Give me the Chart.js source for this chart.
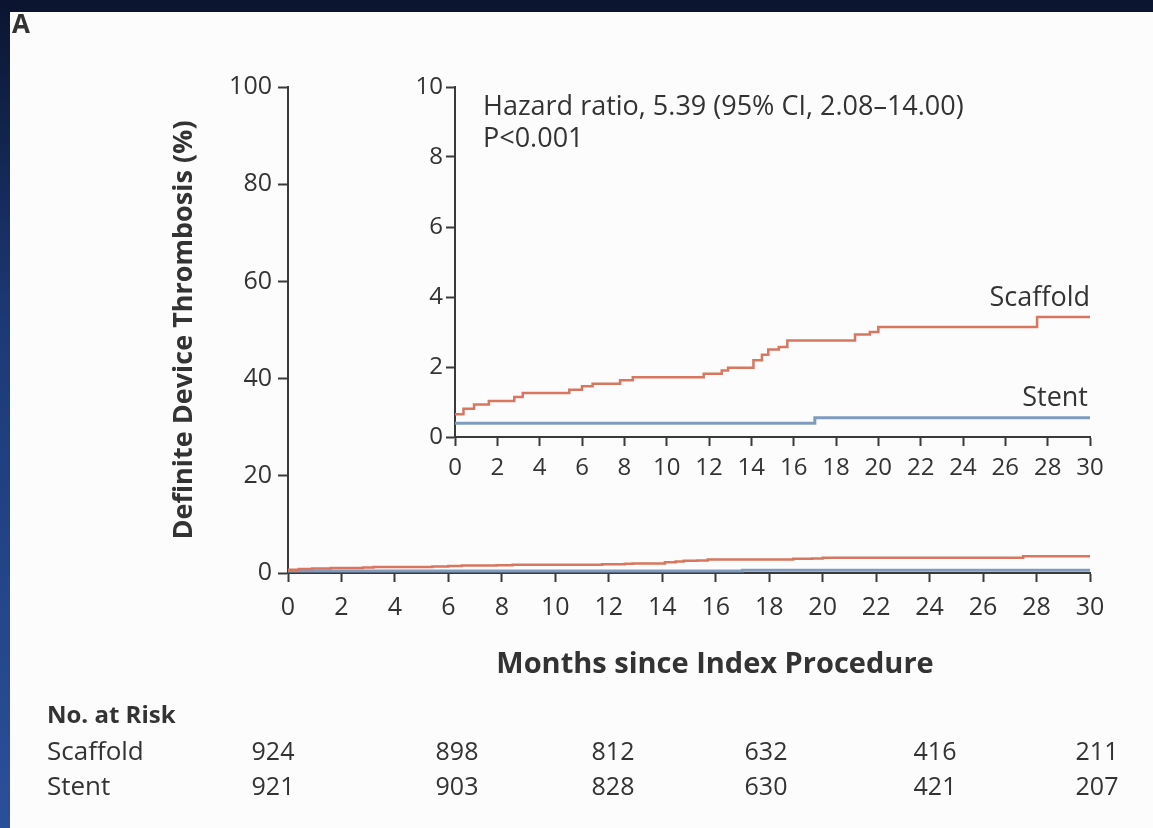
<!DOCTYPE html>
<html>
<head>
<meta charset="utf-8">
<script src="https://cdn.jsdelivr.net/npm/chart.js@4"></script>
<style>
  body { margin: 0; background: #fcfcfc; font-family: "Open Sans", Lato, sans-serif; color: #333; }
  #page { position: relative; width: 1153px; height: 828px; overflow: hidden; background: #fcfcfc; }
  #main { position: absolute; left: 0; top: 0; }
  #inset { position: absolute; left: 380px; top: 50px; }
  .txt { position: absolute; white-space: nowrap; line-height: 1; }
  .topband { position: absolute; left: 0; top: 0; width: 1153px; height: 12px; background: #0b1530; }
  .leftband { position: absolute; left: 0; top: 0; width: 10px; height: 828px; background: linear-gradient(#0b1530, #1d3a78 40%, #2a5099); }
  .risk { font-size: 26px; }
  .num { position: absolute; width: 60px; margin-left: -30px; text-align: center; font-size: 25px; line-height: 1; }
</style>
</head>
<body>
<div id="page">
  <canvas id="main" width="1153" height="828"></canvas>
  <canvas id="inset" width="740" height="440"></canvas>
  <div class="topband"></div>
  <div class="leftband"></div>

  <div class="txt" style="left:12px; top:10px; font-size:26px; font-weight:bold;">A</div>

  <div class="txt" style="left:483px; top:91px; font-size:27px;">Hazard ratio, 5.39 (95% CI, 2.08–14.00)</div>
  <div class="txt" style="left:483px; top:123px; font-size:27px;">P&lt;0.001</div>
  <div class="txt" style="right:63px; top:282px; font-size:27px;">Scaffold</div>
  <div class="txt" style="right:65px; top:382px; font-size:27px;">Stent</div>

  <div class="txt" style="left:715px; top:647px; transform:translateX(-50%); font-size:29px; font-weight:bold;">Months since Index Procedure</div>

  <div class="txt" style="left:47px; top:702px; font-size:24px; font-weight:bold;">No. at Risk</div>
  <div class="txt risk" style="left:47px; top:737px;">Scaffold</div>
  <div class="txt risk" style="left:47px; top:772px;">Stent</div>
  <div id="riskRows"></div>
</div>
<script>
// cumulative incidence, definite device thrombosis (%)
const scaffoldMonths = [0, 0.4, 0.9, 1.6, 2.8, 3.2, 5.4, 6.0, 6.5, 7.8, 8.4, 11.75, 12.6, 12.9, 14.1, 14.5, 14.8, 15.3, 15.7, 18.9, 19.6, 20.0, 27.5, 30];
const scaffoldPct = [0.65, 0.81, 0.93, 1.03, 1.14, 1.26, 1.35, 1.45, 1.52, 1.62, 1.71, 1.81, 1.90, 1.98, 2.19, 2.35, 2.50, 2.57, 2.76, 2.93, 3.00, 3.14, 3.43, 3.43];
const stentMonths = [0, 17.0, 30];
const stentPct = [0.39, 0.55, 0.55];

// number at risk table
const riskMonths = [0, 6, 12, 18, 24, 30];
const riskScaffold = [924, 898, 812, 632, 416, 211];
const riskStent = [921, 903, 828, 630, 421, 207];
const riskX = [273, 457, 613, 766, 935, 1097];

const scaffoldColor = '#d8765f';
const stentColor = '#7f9cc0';
const axisColor = '#3a3a3a';
const textColor = '#333333';
const fontName = 'Open Sans';

const toPts = (xs, ys) => xs.map((x, i) => ({ x: x, y: ys[i] }));

function datasets() {
  return [
    { label: 'Scaffold', data: toPts(scaffoldMonths, scaffoldPct), stepped: true,
      borderColor: scaffoldColor, borderWidth: 2.5, pointRadius: 0, fill: false },
    { label: 'Stent', data: toPts(stentMonths, stentPct), stepped: true,
      borderColor: stentColor, borderWidth: 3, pointRadius: 0, fill: false }
  ];
}

function axisOpts(min, max, step, size, title, titleSize) {
  return {
    type: 'linear', min: min, max: max,
    ticks: { stepSize: step, color: textColor, font: { family: fontName, size: size }, padding: 6, maxRotation: 0, autoSkip: false },
    grid: { display: true, drawOnChartArea: false, drawTicks: true, tickLength: 9, tickWidth: 2, tickColor: axisColor },
    border: { display: true, color: axisColor, width: 2 },
    title: title ? { display: true, text: title, color: textColor, font: { family: fontName, size: titleSize, weight: 'bold' }, padding: { top: 0, bottom: 0 } } : { display: false }
  };
}

// main chart 0-100 %
const mainX = axisOpts(0, 30, 2, 25, null);
mainX.ticks.padding = 11;
mainX.afterFit = s => { s.height = 105; };
const mainY = axisOpts(0, 100, 20, 25, 'Definite Device Thrombosis (%)', 27);
mainY.grid.tickLength = 10;
mainY.afterFit = s => { s.width = 120; };

new Chart(document.getElementById('main').getContext('2d'), {
  type: 'line',
  data: { datasets: datasets() },
  options: {
    responsive: false, animation: false,
    layout: { padding: { left: 168, top: 87, right: 63, bottom: 150 } },
    plugins: { legend: { display: false }, tooltip: { enabled: false } },
    scales: { x: mainX, y: mainY }
  }
});

// inset chart 0-10 %
const insetX = axisOpts(0, 30, 2, 24, null);
insetX.ticks.padding = 8;
insetX.afterFit = s => { s.height = 53; };
const insetY = axisOpts(0, 10, 2, 24, null);
insetY.ticks.padding = 3;
insetY.afterFit = s => { s.width = 75; };

new Chart(document.getElementById('inset').getContext('2d'), {
  type: 'line',
  data: { datasets: datasets() },
  options: {
    responsive: false, animation: false,
    layout: { padding: { left: 0, top: 37, right: 30, bottom: 0 } },
    plugins: { legend: { display: false }, tooltip: { enabled: false } },
    scales: { x: insetX, y: insetY }
  }
});

// risk table numbers
const rows = document.getElementById('riskRows');
riskMonths.forEach((m, i) => {
  [[riskScaffold, 738], [riskStent, 773]].forEach(([arr, top]) => {
    const d = document.createElement('div');
    d.className = 'num';
    d.style.left = riskX[i] + 'px';
    d.style.top = top + 'px';
    d.textContent = arr[i];
    rows.appendChild(d);
  });
});
</script>
</body>
</html>
